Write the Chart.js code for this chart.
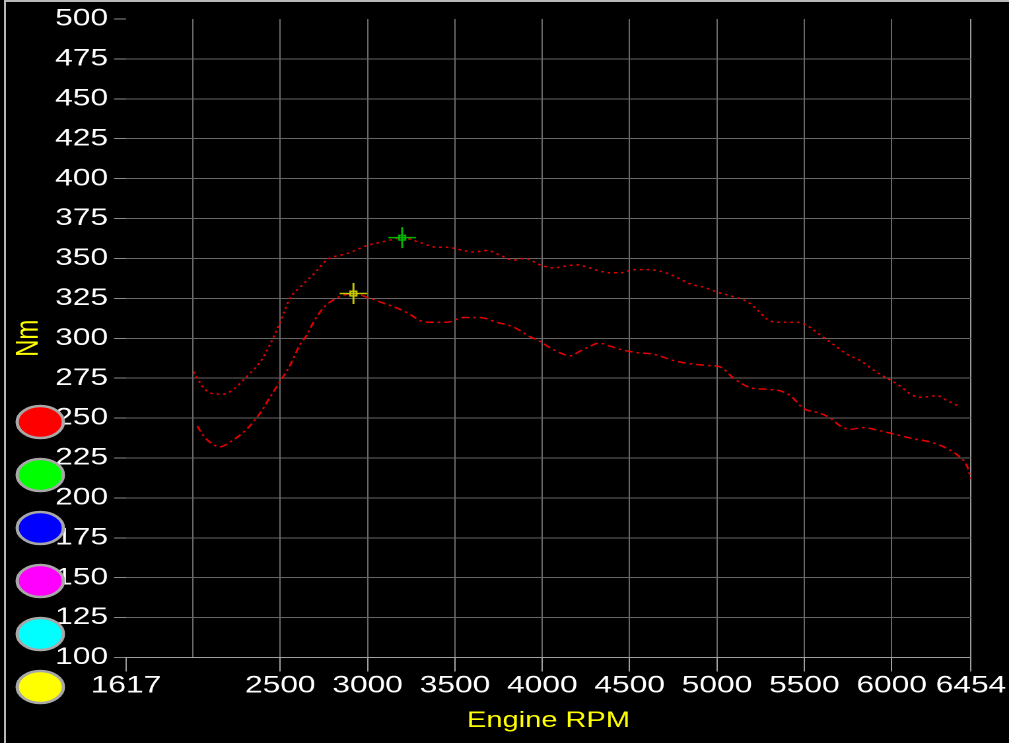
<!DOCTYPE html>
<html>
<head>
<meta charset="utf-8">
<title>Engine RPM / Nm</title>
<script src="https://cdn.jsdelivr.net/npm/chart.js@4.4.0/dist/chart.umd.min.js"></script>
<style>
  html, body { margin: 0; padding: 0; background: #000; overflow: hidden; }
  /* the original picture is stretched sideways, so the chart is drawn narrow and scaled */
  #wrap { position: absolute; left: 0; top: 0; width: 764px; height: 743px;
          transform: scaleX(1.3207); transform-origin: 0 0; }
  #frame { position: absolute; left: 4px; top: 0; width: 1005px; height: 743px;
           border-top: 2px solid #b8b8b8; border-left: 2px solid #b8b8b8;
           box-sizing: border-box; pointer-events: none; }
</style>
</head>
<body>
<div id="wrap"><canvas id="torqueChart"></canvas></div>
<div id="frame"></div>
<script>
/* ============================
   DATA
   ============================ */
const X_TICKS = [1617, 2000, 2500, 3000, 3500, 4000, 4500, 5000, 5500, 6000, 6454];
const Y_MIN = 100;
const Y_MAX = 500;
const Y_STEP = 25;

// upper run (dotted)
const upperRpm = [2003, 2069, 2136, 2174, 2232, 2308, 2384, 2441, 2499, 2556, 2613, 2690, 2766, 2804, 2881,
  2995, 3110, 3198, 3300, 3396, 3453, 3549, 3606, 3682, 3759, 3835, 3902, 3988, 4064, 4121, 4198, 4274,
  4331, 4389, 4446, 4522, 4599, 4675, 4732, 4790, 4847, 4923, 5000, 5095, 5172, 5229, 5286, 5344, 5458,
  5515, 5591, 5668, 5744, 5820, 5897, 5973, 6050, 6107, 6164, 6259, 6316, 6393];
const upperTorque = [279, 268, 265, 265, 268, 276, 285, 296, 310, 325, 332, 340, 349, 351, 353,
  358, 361, 363, 360, 357, 357, 355, 354, 355, 352, 349, 350, 346, 344, 345, 346, 344,
  342, 341, 341, 343, 343, 342, 340, 337, 334, 332, 329, 326, 323, 318, 312, 310, 310,
  308, 302, 296, 290, 286, 280, 275, 270, 265, 263, 264, 261, 257];

// lower run (dash-dot)
const lowerRpm = [2025, 2060, 2108, 2155, 2213, 2308, 2384, 2441, 2499, 2556, 2613, 2652, 2690, 2747, 2804,
  2862, 2919, 3014, 3090, 3167, 3243, 3300, 3377, 3453, 3549, 3644, 3740, 3835, 3930, 3988, 4045, 4121,
  4159, 4217, 4274, 4322, 4389, 4446, 4541, 4637, 4752, 4847, 4943, 5019, 5095, 5191, 5286, 5363, 5420,
  5496, 5591, 5649, 5706, 5763, 5839, 5935, 6011, 6126, 6221, 6316, 6374, 6431, 6454];
const lowerTorque = [245, 239, 234, 232, 235, 243, 253, 263, 273, 283, 296, 302, 310, 319, 324,
  327, 328, 325, 322, 319, 315, 311, 310, 310, 313, 313, 310, 307, 301, 298, 294, 290,
  289, 292, 295, 297, 295, 293, 291, 290, 286, 284, 283, 282, 275, 269, 268, 267, 264,
  256, 253, 250, 245, 243, 244, 242, 240, 237, 235, 231, 227, 220, 212];

// peak crosshairs (upper, lower)
const peakRpm = [3198, 2919];
const peakTorque = [363, 328];
const peakColors = ["#00b400", "#c8c800"];

// run selector dots on the left
const LEGEND_COLORS = ["#ff0000", "#00ff00", "#0000ff", "#ff00ff", "#00ffff", "#ffff00"];

const toPoints = (xs, ys) => xs.map((x, i) => ({ x, y: ys[i] }));

/* ============================
   PLUGINS
   ============================ */
const legendDots = {
  id: "legendDots",
  afterDraw(chart) {
    const ctx = chart.ctx;
    ctx.save();
    LEGEND_COLORS.forEach((c, i) => {
      ctx.beginPath();
      ctx.ellipse(30.5, 422 + i * 53, 17.5, 16, 0, 0, Math.PI * 2);
      ctx.fillStyle = c;
      ctx.fill();
      ctx.lineWidth = 2.5;
      ctx.strokeStyle = "#a8a8a8";
      ctx.stroke();
    });
    ctx.restore();
  },
};

/* ============================
   CHART
   ============================ */
const ctx = document.getElementById("torqueChart").getContext("2d");

new Chart(ctx, {
  type: "line",
  data: {
    datasets: [
      {
        label: "peak box",
        data: toPoints(peakRpm, peakTorque),
        showLine: false,
        pointStyle: "rect",
        pointRadius: 3.3,
        pointBorderWidth: 1.5,
        pointBorderColor: peakColors,
        pointBackgroundColor: "rgba(0,0,0,0)",
      },
      {
        label: "peak cross",
        data: toPoints(peakRpm, peakTorque),
        showLine: false,
        pointStyle: "cross",
        pointRadius: 10.5,
        pointBorderWidth: 1.5,
        pointBorderColor: peakColors,
      },
      {
        label: "Run 1",
        data: toPoints(upperRpm, upperTorque),
        borderColor: "#e80000",
        borderWidth: 1.5,
        borderDash: [2, 3],
        pointRadius: 0,
        cubicInterpolationMode: "monotone",
      },
      {
        label: "Run 2",
        data: toPoints(lowerRpm, lowerTorque),
        borderColor: "#e80000",
        borderWidth: 1.5,
        borderDash: [6, 3, 2, 3],
        pointRadius: 0,
        cubicInterpolationMode: "monotone",
      },
    ],
  },
  options: {
    responsive: true,
    maintainAspectRatio: false,
    devicePixelRatio: 2,
    animation: false,
    events: [],
    layout: { padding: { top: 15, right: 28.8, left: 0, bottom: 0 } },
    plugins: { legend: { display: false }, tooltip: { enabled: false } },
    scales: {
      x: {
        type: "linear",
        min: X_TICKS[0],
        max: X_TICKS[X_TICKS.length - 1],
        afterBuildTicks: (scale) => {
          scale.ticks = X_TICKS.map((value) => ({ value }));
        },
        afterFit: (scale) => {
          scale.height = 85.5;
        },
        ticks: {
          autoSkip: false,
          maxRotation: 0,
          padding: 0,
          color: "#ffffff",
          font: { family: "Liberation Sans", size: 24 },
          callback: (v) => (v === 2000 ? "" : String(v)),
        },
        grid: {
          tickLength: 14,
          color: (c) =>
            c.tick.value === 1617 ? "rgba(0,0,0,0)" : c.tick.value === 6454 ? "#9a9a9a" : "#6a6a6a",
          tickColor: (c) => (c.tick.value === 2000 ? "rgba(0,0,0,0)" : "#a0a0a0"),
        },
        border: { display: true, color: "#a0a0a0", width: 1 },
        title: {
          display: true,
          text: "Engine RPM",
          color: "#ffff00",
          font: { family: "Liberation Sans", size: 22 },
          padding: { top: 0, bottom: 8.8 },
        },
      },
      y: {
        min: Y_MIN,
        max: Y_MAX,
        afterFit: (scale) => {
          scale.width = 95.4;
        },
        ticks: {
          stepSize: Y_STEP,
          padding: 4.6,
          color: "#ffffff",
          font: { family: "Liberation Sans", size: 24 },
          callback: (v) => String(v),
        },
        grid: {
          tickLength: 9,
          color: (c) => (c.tick.value === Y_MAX || c.tick.value === Y_MIN ? "rgba(0,0,0,0)" : "#666666"),
          tickColor: "#8c8c8c",
        },
        border: { display: false },
        title: {
          display: true,
          text: "Nm",
          color: "#ffff00",
          font: { family: "Liberation Sans", size: 24 },
          padding: { top: 7.6, bottom: 0 },
        },
      },
    },
  },
  plugins: [legendDots],
});
</script>
</body>
</html>
